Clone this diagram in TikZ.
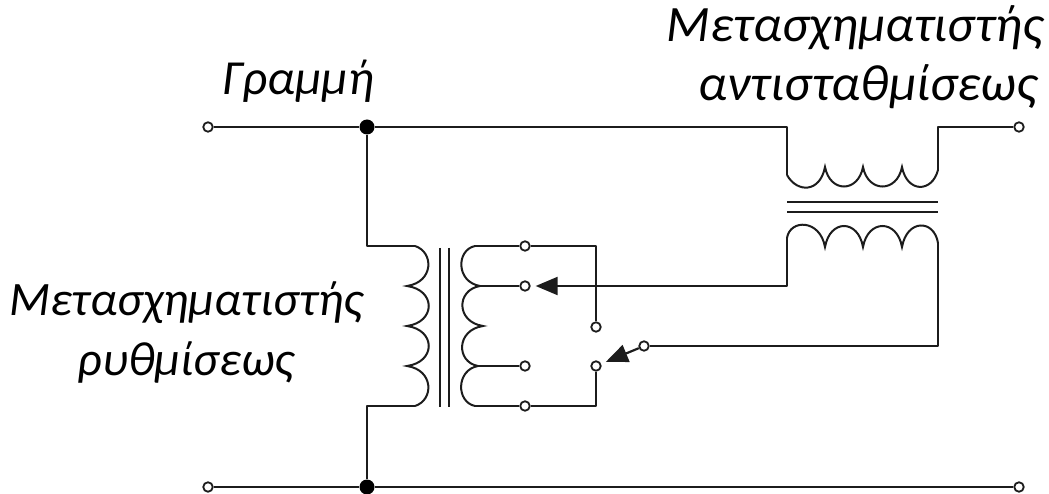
\documentclass[tikz,border=0pt]{standalone}
\usepackage{fontspec}
\setmainfont{Carlito}
\usetikzlibrary{arrows.meta}
\definecolor{wire}{HTML}{1C1C1C}
\tikzset{
  base/.style={draw=wire, line width=2.2pt, line join=round},
  coil/.style={draw=wire, line width=2pt, line join=miter},
  term/.style={circle, draw=wire, fill=white, line width=1.8pt, inner sep=0pt, minimum size=9.5pt},
  dot/.style={circle, fill=black, inner sep=0pt, minimum size=15pt},
  lab/.style={text=black, font=\itshape, align=center},
  wiper/.style={base, shorten >=5pt, -{Triangle[length=22pt,width=18pt]}},
}
\begin{document}
\begin{tikzpicture}[x=1pt,y=-1pt]
  \useasboundingbox (0,0) rectangle (1049,494);
  % line terminals
  \node[term] (TL) at (208,127) {};
  \node[term] (TR) at (1019,127) {};
  \node[term] (BL) at (208,487) {};
  \node[term] (BR) at (1019,487) {};
  \node[dot] (J1) at (367,127) {};
  \node[dot] (J2) at (367,487) {};
  % tap changer contacts
  \node[term] (A1) at (525,246) {};
  \node[term] (A2) at (525,286) {};
  \node[term] (A3) at (525,366) {};
  \node[term] (A4) at (525,406) {};
  \node[term] (S1) at (596,327) {};
  \node[term] (S2) at (596,366) {};
  \node[term] (S3) at (644,346) {};
  % regulating transformer
  \coordinate (P1) at (415,246);
  \coordinate (P2) at (415,406);
  \coordinate (Q1) at (475,246);
  \coordinate (Q2) at (480,286);
  \coordinate (Q3) at (478,366);
  \coordinate (Q4) at (475,406);
  \draw[coil] (P1) .. controls (434,252) and (434,282) .. (407,286)
    .. controls (436,290) and (436,322) .. (407,326)
    .. controls (436,330) and (436,362) .. (407,366)
    .. controls (434,370) and (434,400) .. (P2);
  \draw[coil] (Q1) .. controls (456,250) and (456,282) .. (Q2)
    .. controls (456,290) and (456,322) .. (483,326)
    .. controls (456,330) and (456,362) .. (Q3)
    .. controls (456,370) and (456,402) .. (Q4);
  \foreach \x in {440,449} {
    \draw[base] (\x,248) -- (\x,407);
  }
  % compensating transformer
  \coordinate (U1) at (787,175);
  \coordinate (U2) at (938,170);
  \coordinate (V1) at (787,238);
  \coordinate (V2) at (938,243);
  \draw[coil] (U1) .. controls (797,193) and (820,193) .. (825,167)
    .. controls (830,193) and (858,193) .. (863,167)
    .. controls (868,193) and (897,193) .. (902,167)
    .. controls (907,193) and (932,193) .. (U2);
  \draw[coil] (V1) .. controls (790,219) and (820,219) .. (825,247)
    .. controls (830,219) and (858,219) .. (863,247)
    .. controls (868,219) and (897,219) .. (902,247)
    .. controls (907,219) and (934,219) .. (V2);
  \foreach \y in {202,212} {
    \draw[base] (787,\y) -- (938,\y);
  }
  % wiring
  \draw[base] (TL) -- (J1) -- (787,127) -- (U1);
  \draw[base] (U2) -- (938,127) -- (TR);
  \draw[base] (BL) -- (J2) -- (BR);
  \draw[base] (J1) |- (P1);
  \draw[base] (J2) |- (P2);
  \draw[base] (Q1) -- (A1);
  \draw[base] (Q2) -- (A2);
  \draw[base] (Q3) -- (A3);
  \draw[base] (Q4) -- (A4);
  \draw[base] (A1) -| (S1);
  \draw[base] (A4) -| (S2);
  \draw[base] (V2) -- (938,346) -- (S3);
  \draw[wiper] (V1) -- (787,286) -- (A2);
  \draw[wiper] (S3) -- (S2);
  % labels
  \node[lab, font=\fontsize{49}{59}\selectfont\itshape] (line) at (298,81) {Γραμμή};
  \node[lab, font=\fontsize{51}{59}\selectfont\itshape] (comp) at (855,57) {Μετασχηματιστής\\\hspace*{26pt}αντισταθμίσεως};
  \node[lab, font=\fontsize{48}{60}\selectfont\itshape] (reg) at (186,332) {Μετασχηματιστής\\ρυθμίσεως};
\end{tikzpicture}
\end{document}
